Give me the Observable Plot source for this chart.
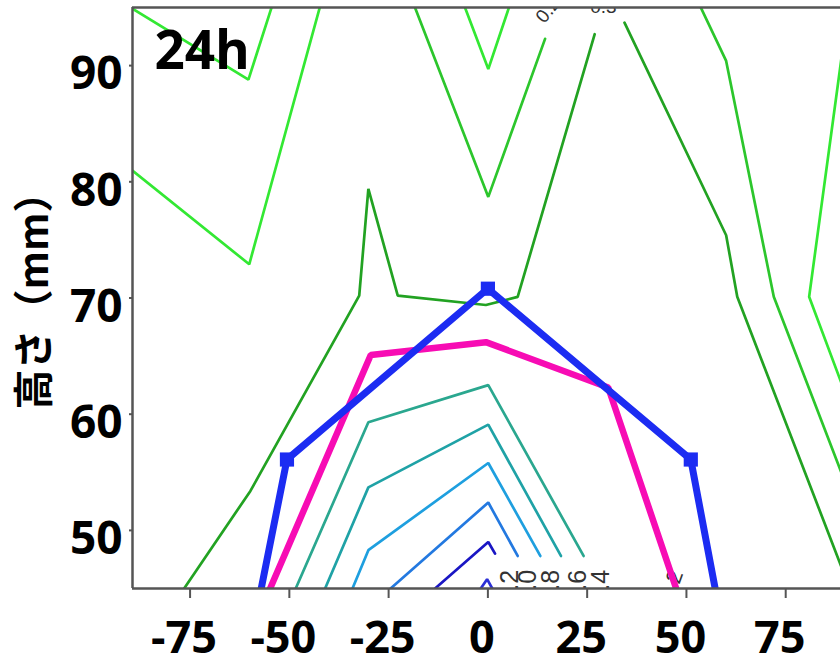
<!DOCTYPE html>
<html><head><meta charset="utf-8">
<script src="https://cdn.jsdelivr.net/npm/d3@7"></script>
<script src="https://cdn.jsdelivr.net/npm/@observablehq/plot@0.6"></script>
<style>html,body{margin:0;padding:0;background:#fff;} #chart svg{display:block;}</style>
</head><body><div id="chart"></div>
<script>
// ---- axes & text ----
const xDomain = [-89.5, 88.8];
const yDomain = [45, 95];
const xTicks = [-75, -50, -25, 0, 25, 50, 75];
const yTicks = [50, 60, 70, 80, 90];
const panelLabel = ["24h"];
const yLabel = ["高さ（mm）"];

// ---- contour polylines [x, y] ----
const contourLimeA = [[-90, 95.0], [-60.3, 88.8], [-54.2, 95.3]];
const contourLimeB = [[-42.1, 95.3], [-60.1, 72.9], [-90, 81.1]];
const contourLimeC = [[-6.1, 95.3], [0.1, 89.7], [5.6, 95.3]];
const contourLimeD = [[89.3, 91.3], [80.9, 70.1], [90, 61.8]];
const contourMidA = [[-18.7, 95.3], [0.1, 78.7], [14.4, 92.3]];
const contourMidB = [[53.2, 95.3], [60, 90.4], [72, 70.1], [90, 54.1]];
const contourDarkA = [[-76.5, 45], [-59.8, 53.4], [-32.4, 70.2], [-30.1, 79.4], [-22.7, 70.2], [-0.5, 69.4], [7.5, 70.1], [26.9, 92.7]];
const contourDarkB = [[34.4, 93.7], [60, 75.4], [62.8, 70.1], [90, 46.0]];
const contourTealA = [[-48.4, 45], [-30.1, 59.3], [0.1, 62.5], [24.1, 47.8]];
const contourTealB = [[-41, 45], [-30.1, 53.7], [0.1, 59.1], [18.4, 47.8]];
const contourSky = [[-34.1, 45], [-30.1, 48.3], [0.1, 55.8], [13.2, 47.8]];
const contourBlue = [[-24.5, 45], [0.1, 52.4], [7.5, 47.8]];
const contourNavyA = [[-13.3, 45], [0.1, 49], [1.8, 48]];
const contourNavyB = [[-1.8, 45], [-0.2, 45.8], [1.1, 45]];

// ---- contour labels ----
const topLabelText = ["0.2", "0.3"];
const topLabelX = [13.0, 29.1];
const topLabelY = [93.9, 94.5];
const bottomLabelText = ["1.2", "1.0", "0.8", "0.6", "0.4"];
const bottomLabelX = [5.5, 10.0, 15.8, 22.6, 28.4];
const bottomLabelY = [46.6, 46.6, 46.6, 46.6, 46.6];
const sideLabelText = ["0.2"];
const sideLabelX = [47.6];
const sideLabelY = [46.5];

// ---- profile lines ----
const magentaX = [-56.1, -29.5, -0.5, 30.3, 48.4];
const magentaY = [44, 65.1, 66.2, 62.3, 44];
const blueX = [-60, -50.6, 0, 51.1, 60];
const blueY = [40, 56.1, 70.8, 56.1, 40];

// ---- styles ----
const C = {
  lime: "#33e833", mid: "#2cc62c", dark: "#22a222",
  tealA: "#2aa78f", tealB: "#1fa2a6", sky: "#1e9fdf", blue: "#2379e0",
  navyA: "#1a16c4", navyB: "#2b2fd6", magenta: "#f70cb4", prof: "#1c2cf2"
};
const F = "'Open Sans', 'Liberation Sans', sans-serif";
const fmt = d => String(d); // plain hyphen-minus as in the reference

const zipPts = (xs, ys) => xs.map((x, i) => [x, ys[i]]);
const cl = (data, stroke) => Plot.line(data, {x: d => d[0], y: d => d[1], stroke, strokeWidth: 2.7, clip: true, strokeLinejoin: "miter"});

const chart = Plot.plot({
  width: 840, height: 664,
  marginLeft: 132, marginRight: 0, marginTop: 7, marginBottom: 76,
  x: {domain: xDomain},
  y: {domain: yDomain},
  style: {fontFamily: F, color: "black", background: "white", overflow: "hidden"},
  marks: [
    cl(contourLimeA, C.lime), cl(contourLimeB, C.lime), cl(contourLimeC, C.lime), cl(contourLimeD, C.lime),
    cl(contourMidA, C.mid), cl(contourMidB, C.mid),
    cl(contourDarkA, C.dark), cl(contourDarkB, C.dark),
    cl(contourTealA, C.tealA), cl(contourTealB, C.tealB),
    cl(contourSky, C.sky), cl(contourBlue, C.blue),
    cl(contourNavyA, C.navyA), cl(contourNavyB, C.navyB),
    Plot.text(topLabelText.slice(0, 1), {x: topLabelX.slice(0, 1), y: topLabelY.slice(0, 1), text: d => d, rotate: -50, textAnchor: "start", lineAnchor: "middle", fontSize: 19, fill: "#333", clip: true, fontFamily: "Liberation Sans"}),
    Plot.text(topLabelText.slice(1), {x: topLabelX.slice(1), y: topLabelY.slice(1), text: d => d, textAnchor: "middle", lineAnchor: "bottom", fontSize: 19, fill: "#333", clip: true, fontFamily: "Liberation Sans"}),
    Plot.text(bottomLabelText, {x: bottomLabelX, y: bottomLabelY, text: d => d, rotate: -90, textAnchor: "end", lineAnchor: "middle", fontSize: 25, fill: "#333", clip: true, fontFamily: "Liberation Sans"}),
    Plot.text(sideLabelText, {x: sideLabelX, y: sideLabelY, text: d => d, rotate: -70, textAnchor: "end", lineAnchor: "middle", fontSize: 22, fill: "#333", clip: true, fontFamily: "Liberation Sans"}),
    Plot.line(zipPts(magentaX, magentaY), {x: d => d[0], y: d => d[1], stroke: C.magenta, strokeWidth: 6.5, clip: true, strokeLinejoin: "miter"}),
    Plot.line(zipPts(blueX, blueY), {x: d => d[0], y: d => d[1], stroke: C.prof, strokeWidth: 7, clip: true, strokeLinejoin: "miter"}),
    Plot.dot(zipPts(blueX, blueY), {x: d => d[0], y: d => d[1], symbol: "square", r: 8, fill: C.prof, stroke: "none", clip: true}),
    // frame (left, top, bottom)
    Plot.ruleX([xDomain[0]], {stroke: "#555", strokeWidth: 2.5}),
    Plot.ruleY(yDomain, {stroke: "#555", strokeWidth: 2.5}),
    // ticks
    Plot.axisX(xTicks, {tickSize: 10, tickFormat: () => "", stroke: "#555", strokeWidth: 2, label: null}),
    Plot.axisY(yTicks, {tickSize: 3, tickFormat: () => "", stroke: "#555", strokeWidth: 2, label: null}),
    // tick labels
    Plot.axisX(xTicks, {tickSize: 0, tickPadding: 33, dx: -6, tickFormat: fmt, fontSize: 45, fontWeight: "bold", fill: "black", label: null}),
    Plot.axisY(yTicks, {tickSize: 0, tickPadding: 10, dy: 9, tickFormat: fmt, fontSize: 46, fontWeight: "bold", fill: "black", label: null}),
    // panel label & y title
    Plot.text(panelLabel, {frameAnchor: "top-left", text: d => d, dx: 22, dy: 61.3, textAnchor: "start", lineAnchor: "bottom", fontSize: 53, fontWeight: "bold", fill: "black"}),
    Plot.text(yLabel, {frameAnchor: "left", text: d => d, rotate: -90, dx: -97, dy: -7, textAnchor: "middle", lineAnchor: "middle", fontSize: 40, fontWeight: "bold", fill: "black", fontFamily: "'Noto Sans CJK JP', sans-serif"})
  ]
});
document.getElementById("chart").appendChild(chart);
</script>
</body></html>
